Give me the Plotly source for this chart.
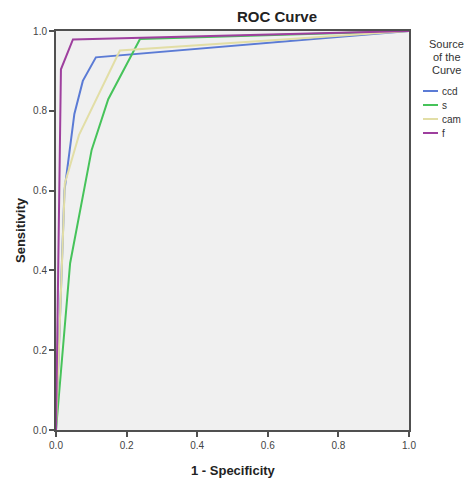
import plotly.graph_objects as go

series_names = ["ccd", "s", "cam", "f"]
ccd_x = [0.0, 0.024, 0.052, 0.076, 0.113, 1.0]
ccd_y = [0.0, 0.600, 0.792, 0.875, 0.934, 1.0]
s_x = [0.0, 0.040, 0.101, 0.148, 0.238, 1.0]
s_y = [0.0, 0.418, 0.702, 0.829, 0.980, 1.0]
cam_x = [0.0, 0.025, 0.065, 0.181, 1.0]
cam_y = [0.0, 0.618, 0.739, 0.951, 1.0]
f_x = [0.0, 0.014, 0.048, 1.0]
f_y = [0.0, 0.904, 0.979, 1.0]
tick_vals = [0.0, 0.2, 0.4, 0.6, 0.8, 1.0]

colors = ["#5b7bd5", "#46c35a", "#e2dea6", "#9e3f9e"]
xs = [ccd_x, s_x, cam_x, f_x]
ys = [ccd_y, s_y, cam_y, f_y]

W, H = 467, 483
PL, PR, PT, PB = 56, 409, 31, 430  # plot area in page pixels
L, R, T, B = PL, W - PR, PT, H - PB

fig = go.Figure()
for name, x, y, c in zip(series_names, xs, ys, colors):
    fig.add_trace(go.Scatter(x=x, y=y, mode="lines", name=name,
                             line=dict(color=c, width=2), showlegend=False))

axis_common = dict(
    range=[0, 1], tickvals=tick_vals, tickformat=".1f",
    showgrid=False, zeroline=False, showline=True, mirror=True,
    linecolor="#505050", linewidth=2, ticks="outside", ticklen=5,
    tickcolor="#505050", tickwidth=1.5,
    tickfont=dict(family="Liberation Sans, Arial", size=10, color="#444444"),
)
fig.update_xaxes(**axis_common)
fig.update_yaxes(**axis_common)


def px_x(p):
    return (p - PL) / (PR - PL)


def px_y(p):
    return (PB - p) / (PB - PT)


FONT = "Liberation Sans, Arial"
annotations = [
    dict(text="<b>ROC Curve</b>", x=px_x(277), y=px_y(17), xref="paper", yref="paper",
         showarrow=False, xanchor="center", yanchor="middle",
         font=dict(family=FONT, size=15, color="#222222")),
    dict(text="<b>1 - Specificity</b>", x=px_x(233), y=px_y(470), xref="paper", yref="paper",
         showarrow=False, xanchor="center", yanchor="middle",
         font=dict(family=FONT, size=13, color="#222222")),
    dict(text="<b>Sensitivity</b>", x=px_x(20), y=px_y(230), xref="paper", yref="paper",
         showarrow=False, xanchor="center", yanchor="middle", textangle=-90,
         font=dict(family=FONT, size=13, color="#222222")),
]
for i, line in enumerate(["Source", "of the", "Curve"]):
    annotations.append(dict(text=line, x=px_x(447), y=px_y(44 + 13 * i),
                            xref="paper", yref="paper", showarrow=False,
                            xanchor="center", yanchor="middle",
                            font=dict(family=FONT, size=11, color="#333333")))

shapes = []
for i, (name, c) in enumerate(zip(series_names, colors)):
    yy = 91 + 14 * i
    shapes.append(dict(type="line", xref="paper", yref="paper",
                       x0=px_x(423), x1=px_x(438), y0=px_y(yy), y1=px_y(yy),
                       line=dict(color=c, width=2)))
    annotations.append(dict(text=name, x=px_x(440), y=px_y(yy), xref="paper", yref="paper",
                            showarrow=False, xanchor="left", yanchor="middle",
                            font=dict(family=FONT, size=10, color="#333333")))

fig.update_layout(
    width=W, height=H, autosize=False,
    margin=dict(l=L, r=R, t=T, b=B),
    paper_bgcolor="white", plot_bgcolor="#f0f0f0",
    annotations=annotations, shapes=shapes, showlegend=False,
)

fig.write_html("out.html",
               config={"displayModeBar": False},
               post_script="document.body.style.margin='0';document.body.style.overflow='hidden';")
